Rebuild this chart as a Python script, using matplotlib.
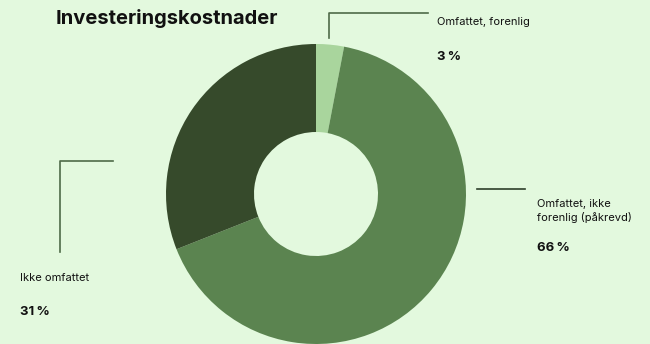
import matplotlib.pyplot as plt

plt.rcParams['font.family'] = ['Inter', 'DejaVu Sans']

# investment cost split (clockwise from the top)
labels = ['Omfattet, forenlig', 'Omfattet, ikke\nforenlig (påkrevd)', 'Ikke omfattet']
shares = [3, 66, 31]
colors = ['#a9d59d', '#5b8450', '#364a2b']

bg = '#e3f9de'
line_col = '#4f6b48'

W, H = 650, 344
fig = plt.figure(figsize=(W / 100, H / 100), dpi=100, facecolor=bg)
ax = fig.add_axes([0, 0, 1, 1])

ax.pie(shares, colors=colors, startangle=90, counterclock=False,
       center=(316, H - 194), radius=150, frame=True,
       wedgeprops=dict(width=88, linewidth=0))
ax.set_xlim(0, W)
ax.set_ylim(0, H)
ax.set_aspect('equal')
ax.axis('off')


def px(y):
    return H - y


ax.text(56, px(18), 'Investeringskostnader', fontsize=14.5, fontweight='bold',
        va='center', ha='left', color='#111111')

# leader lines
ax.plot([329, 329, 428], [px(38), px(13), px(13)], color=line_col, lw=1.2)
ax.plot([477, 525], [px(189), px(189)], color='#2e3f2a', lw=1.2)
ax.plot([60, 60, 113], [px(252), px(161), px(161)], color=line_col, lw=1.2)

txt = dict(fontsize=8, color='#111111', ha='left', va='center')
pct = dict(fontsize=9.5, fontweight='bold', color='#111111', ha='left', va='center')

ax.text(437, px(22), labels[0], **txt)
ax.text(437, px(57), f'{shares[0]}\u2009%', **pct)

ax.text(537, px(211), labels[1], linespacing=1.35, **txt)
ax.text(537, px(248), f'{shares[1]}\u2009%', **pct)

ax.text(20, px(278), labels[2], **txt)
ax.text(20, px(312), f'{shares[2]}\u2009%', **pct)

fig.savefig('out.png', dpi=100, facecolor=bg)
